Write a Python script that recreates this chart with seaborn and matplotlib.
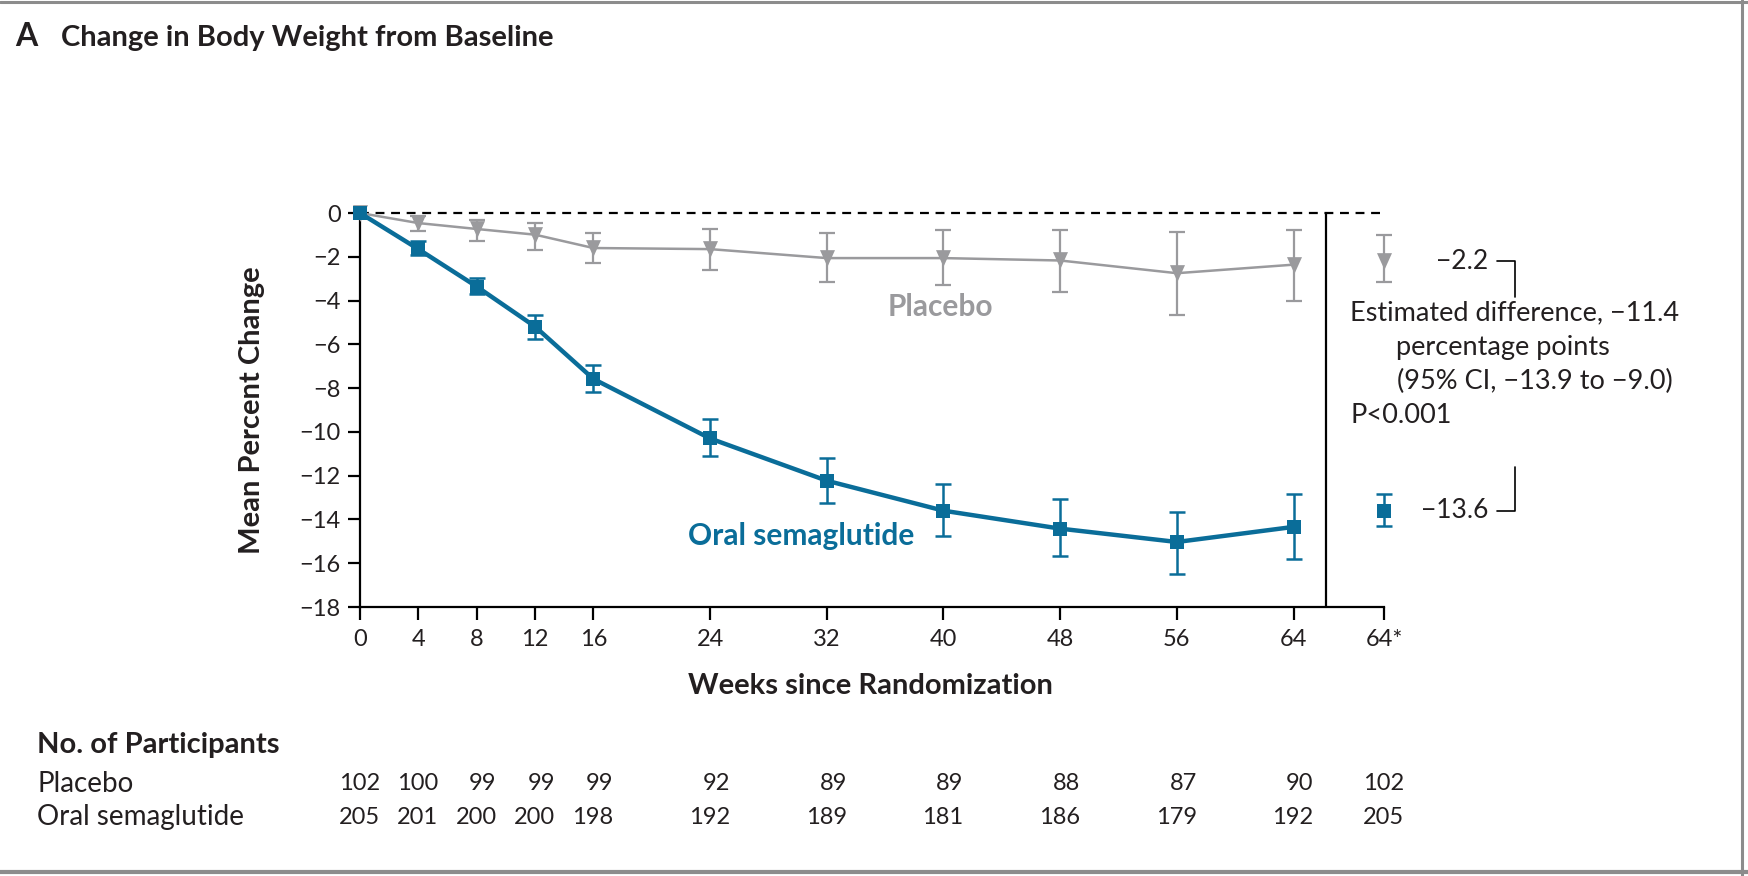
import numpy as np
import pandas as pd
import matplotlib
matplotlib.use("Agg")
import matplotlib.pyplot as plt
import seaborn as sns
from matplotlib.transforms import ScaledTranslation, blended_transform_factory
from matplotlib.lines import Line2D

# ---------------- data ----------------
weeks = [0, 4, 8, 12, 16, 24, 32, 40, 48, 56, 64]
week_labels = ["0", "4", "8", "12", "16", "24", "32", "40", "48", "56", "64", "64*"]

placebo_mean = [0, -0.46, -0.73, -0.99, -1.60, -1.65, -2.06, -2.06, -2.17, -2.75, -2.36]
placebo_hi = [0, -0.12, -0.31, -0.46, -0.92, -0.73, -0.92, -0.79, -0.76, -0.88, -0.76]
placebo_lo = [0, -0.84, -1.30, -1.71, -2.29, -2.59, -3.17, -3.31, -3.63, -4.68, -4.01]

sema_mean = [0, -1.65, -3.36, -5.19, -7.58, -10.30, -12.23, -13.60, -14.42, -15.03, -14.34]
sema_hi = [0, -1.30, -2.96, -4.65, -6.95, -9.43, -11.18, -12.39, -13.06, -13.65, -12.83]
sema_lo = [0, -1.94, -3.70, -5.75, -8.20, -11.10, -13.27, -14.77, -15.68, -16.47, -15.79]

est_placebo = -2.2
est_placebo_ci = [-1.0, -3.13]
est_sema = -13.6
est_sema_ci = [-12.84, -14.30]

n_placebo = [102, 100, 99, 99, 99, 92, 89, 89, 88, 87, 90, 102]
n_sema = [205, 201, 200, 200, 198, 192, 189, 181, 186, 179, 192, 205]

groups = ["Placebo", "Oral semaglutide"]

# ---------------- style ----------------
BLUE = "#0a6d99"
GRAY = "#9a9a9d"
TXT = "#231f20"
TRI = [(-0.45, 0.5), (0.45, 0.5), (0.0, -0.5), (-0.45, 0.5)]   # down-pointing triangle

sns.set_theme(style="ticks")
plt.rcParams["font.family"] = ["Lato", "DejaVu Sans"]
plt.rcParams["axes.unicode_minus"] = True

X_EST = 70.2      # position of the "64*" column
X_DIV = 66.25     # divider line position
XMAX = 71.0
PXW = (1384 - 360) / X_EST   # pixels per week

fig = plt.figure(figsize=(17.49, 8.76), dpi=100)
ax = fig.add_axes([360 / 1749, 1 - 607 / 876, XMAX * PXW / 1749, 394 / 876])

df = pd.DataFrame({
    "week": weeks * 2,
    "mean": placebo_mean + sema_mean,
    "group": [groups[0]] * len(weeks) + [groups[1]] * len(weeks),
})

# reference line at 0
ax.plot([0, X_EST], [0, 0], color="black", lw=1.6, ls=(0, (4, 3)), zorder=1, clip_on=False)
# divider
ax.plot([X_DIV, X_DIV], [0, -18], color="black", lw=1.6, zorder=1, clip_on=False)

# error bars
ax.errorbar(weeks[1:], placebo_mean[1:],
            yerr=[np.array(placebo_mean[1:]) - np.array(placebo_lo[1:]),
                  np.array(placebo_hi[1:]) - np.array(placebo_mean[1:])],
            fmt="none", ecolor=GRAY, elinewidth=1.6, capsize=6, capthick=1.6, zorder=2)
ax.errorbar(weeks[1:], sema_mean[1:],
            yerr=[np.array(sema_mean[1:]) - np.array(sema_lo[1:]),
                  np.array(sema_hi[1:]) - np.array(sema_mean[1:])],
            fmt="none", ecolor=BLUE, elinewidth=1.8, capsize=6, capthick=1.8, zorder=3)

sns.lineplot(data=df[df.group == groups[0]], x="week", y="mean", color=GRAY, lw=1.8,
             marker=TRI, markersize=12, markeredgewidth=0, ax=ax, zorder=4, clip_on=False,
             legend=False)
sns.lineplot(data=df[df.group == groups[1]], x="week", y="mean", color=BLUE, lw=3.2,
             marker="s", markersize=9.5, markeredgewidth=0, ax=ax, zorder=5, clip_on=False,
             legend=False)

# estimated values at 64*
ax.errorbar([X_EST], [est_placebo],
            yerr=[[est_placebo - est_placebo_ci[1]], [est_placebo_ci[0] - est_placebo]],
            fmt="none", ecolor=GRAY, elinewidth=1.6, capsize=6, capthick=1.6, zorder=4)
ax.plot([X_EST], [est_placebo], marker=TRI, ms=12, mew=0, color=GRAY, ls="none", zorder=4)
ax.errorbar([X_EST], [est_sema],
            yerr=[[est_sema - est_sema_ci[1]], [est_sema_ci[0] - est_sema]],
            fmt="none", ecolor=BLUE, elinewidth=1.8, capsize=6, capthick=1.8, zorder=5)
ax.plot([X_EST], [est_sema], marker="s", ms=9.5, mew=0, color=BLUE, ls="none", zorder=5)

# axes
ax.set_xlim(0, XMAX)
ax.set_ylim(-18, 0)
ax.set_xticks(weeks + [X_EST])
ax.set_xticklabels(week_labels)
ax.set_yticks(np.arange(0, -19, -2))
ax.set_yticklabels([("\u2212" + str(-v)) if v < 0 else "0" for v in np.arange(0, -19, -2)])
for s in ["top", "right"]:
    ax.spines[s].set_visible(False)
for s in ["left", "bottom"]:
    ax.spines[s].set_linewidth(1.6)
    ax.spines[s].set_color("black")
ax.spines["bottom"].set_bounds(0, X_EST)
ax.tick_params(axis="both", length=9, width=1.6, color="black", labelsize=17, labelcolor=TXT, pad=5)
ax.tick_params(axis="x", pad=7)
ax.set_facecolor("none")

ax.set_ylabel("Mean Percent Change", fontsize=21, fontweight="bold", color=TXT)
ax.yaxis.set_label_coords(-95 / (XMAX * PXW), 0.5)
ax.set_xlabel("Weeks since Randomization", fontsize=21, fontweight="bold", color=TXT)
ax.xaxis.set_label_coords(510 / (XMAX * PXW), -0.168)

# series labels
ax.text(39.8, -4.29, "Placebo", color=GRAY, fontsize=21.5, fontweight="bold", ha="center", va="center")
ax.text(30.25, -14.75, "Oral semaglutide", color=BLUE, fontsize=21.5, fontweight="bold", ha="center", va="center")

# right-side annotation
ax.annotate("\u22122.2", xy=(X_EST, est_placebo), xytext=(104, 0), textcoords="offset pixels",
            ha="right", va="center", fontsize=19, color=TXT, annotation_clip=False)
ax.annotate("\u221213.6", xy=(X_EST, est_sema), xytext=(104, 0), textcoords="offset pixels",
            ha="right", va="center", fontsize=19, color=TXT, annotation_clip=False)
ax.plot([77.98, 79.2, 79.2], [est_placebo, est_placebo, -3.83], color="black", lw=1.2, clip_on=False)
ax.plot([77.98, 79.2, 79.2], [est_sema, est_sema, -11.6], color="black", lw=1.2, clip_on=False)
ax.text(67.9, -4.56, "Estimated difference, \u221211.4", fontsize=19.5, color=TXT, ha="left", va="center")
ax.text(71.0, -6.16, "percentage points", fontsize=19.5, color=TXT, ha="left", va="center")
ax.text(71.1, -7.71, "(95% CI, \u221213.9 to \u22129.0)", fontsize=19.5, color=TXT, ha="left", va="center")
ax.text(67.9, -9.23, "P<0.001", fontsize=19.5, color=TXT, ha="left", va="center")

# title
fig.text(15 / 1749, 1 - 46 / 876, "A", fontsize=23, fontweight="bold", color=TXT, va="baseline")
fig.text(61 / 1749, 1 - 46 / 876, "Change in Body Weight from Baseline", fontsize=21,
         fontweight="bold", color=TXT, va="baseline")

# participants table
fig.text(37 / 1749, 1 - 745 / 876, "No. of Participants", fontsize=21, fontweight="bold",
         color=TXT, va="center")
fig.text(37 / 1749, 1 - 784 / 876, groups[0], fontsize=20, color=TXT, va="center")
fig.text(37 / 1749, 1 - 817 / 876, groups[1], fontsize=20, color=TXT, va="center")
tr = blended_transform_factory(ax.transData, fig.transFigure) + ScaledTranslation(20 / 100, 0, fig.dpi_scale_trans)
for xp, a, b in zip(weeks + [X_EST], n_placebo, n_sema):
    fig.text(xp, 1 - 784 / 876, str(a), transform=tr, ha="right", va="center", fontsize=17, color=TXT)
    fig.text(xp, 1 - 817 / 876, str(b), transform=tr, ha="right", va="center", fontsize=17, color=TXT)

# frame
fc = "#8c8c8c"
fig.add_artist(Line2D([0, 1], [1 - 1.5 / 876] * 2, transform=fig.transFigure, color=fc, lw=2.2))
fig.add_artist(Line2D([1742 / 1749] * 2, [0, 1], transform=fig.transFigure, color=fc, lw=2.2))
fig.add_artist(Line2D([0, 1], [1 - 872 / 876] * 2, transform=fig.transFigure, color=fc, lw=3))

fig.savefig("out.png", dpi=100, facecolor="white")
